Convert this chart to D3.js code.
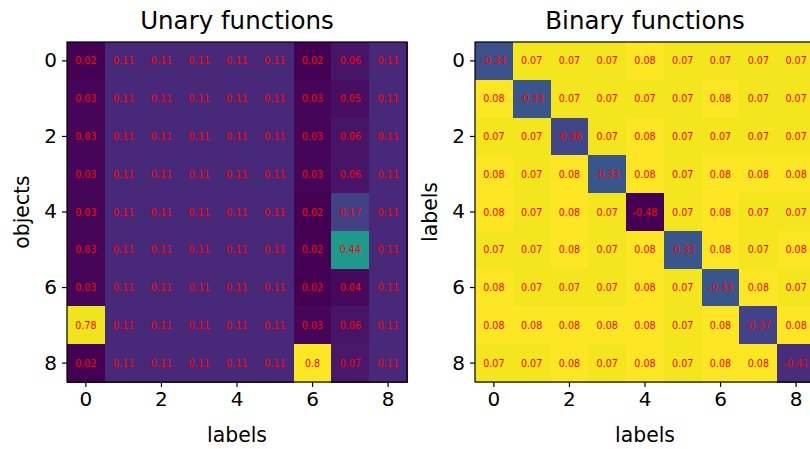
<!DOCTYPE html>
<html>
<head>
<meta charset="utf-8">
<script src="https://cdn.jsdelivr.net/npm/d3@7"></script>
<style>
  body { margin: 0; background: #fff; }
  svg { font-family: 'DejaVu Sans', sans-serif; }
</style>
</head>
<body>
<div id="chart"></div>
<script>
// row = object index, column = label index
const unaryValues = [
  [0.02, 0.11, 0.11, 0.11, 0.11, 0.11, 0.02, 0.06, 0.11],
  [0.03, 0.11, 0.11, 0.11, 0.11, 0.11, 0.03, 0.05, 0.11],
  [0.03, 0.11, 0.11, 0.11, 0.11, 0.11, 0.03, 0.06, 0.11],
  [0.03, 0.11, 0.11, 0.11, 0.11, 0.11, 0.03, 0.06, 0.11],
  [0.03, 0.11, 0.11, 0.11, 0.11, 0.11, 0.02, 0.17, 0.11],
  [0.03, 0.11, 0.11, 0.11, 0.11, 0.11, 0.02, 0.44, 0.11],
  [0.03, 0.11, 0.11, 0.11, 0.11, 0.11, 0.02, 0.04, 0.11],
  [0.78, 0.11, 0.11, 0.11, 0.11, 0.11, 0.03, 0.06, 0.11],
  [0.02, 0.11, 0.11, 0.11, 0.11, 0.11, 0.8, 0.07, 0.11]
];

const binaryValues = [
  [-0.34, 0.07, 0.07, 0.07, 0.08, 0.07, 0.07, 0.07, 0.07],
  [0.08, -0.33, 0.07, 0.07, 0.07, 0.07, 0.08, 0.07, 0.07],
  [0.07, 0.07, -0.36, 0.07, 0.08, 0.07, 0.07, 0.07, 0.07],
  [0.08, 0.07, 0.08, -0.33, 0.08, 0.07, 0.08, 0.08, 0.08],
  [0.08, 0.07, 0.08, 0.07, -0.48, 0.07, 0.08, 0.07, 0.07],
  [0.07, 0.07, 0.08, 0.07, 0.08, -0.33, 0.08, 0.07, 0.08],
  [0.08, 0.07, 0.07, 0.07, 0.08, 0.07, -0.33, 0.08, 0.07],
  [0.08, 0.08, 0.08, 0.08, 0.08, 0.07, 0.08, -0.37, 0.08],
  [0.07, 0.07, 0.08, 0.07, 0.08, 0.07, 0.08, 0.08, -0.41]
];

const indices = d3.range(9);
const tickValues = [0, 2, 4, 6, 8];

const panels = [
  {title: 'Unary functions', xLabel: 'labels', yLabel: 'objects', values: unaryValues, left: 67},
  {title: 'Binary functions', xLabel: 'labels', yLabel: 'labels', values: binaryValues, left: 475}
];

const width = 810;
const height = 449;
const marginTop = 42;
const size = 340;

const svg = d3.select('#chart')
  .append('svg')
  .attr('width', width)
  .attr('height', height);

panels.forEach(p => {
  const x = d3.scaleBand().domain(indices).range([0, size]);
  const y = d3.scaleBand().domain(indices).range([0, size]);
  const flat = p.values.flat();
  const color = d3.scaleSequential(d3.interpolateViridis)
    .domain(d3.extent(flat));

  const g = svg.append('g')
    .attr('transform', `translate(${p.left},${marginTop})`);

  const cells = [];
  p.values.forEach((row, r) => row.forEach((v, c) => cells.push({r, c, v})));

  g.selectAll('rect.cell')
    .data(cells)
    .enter().append('rect')
      .attr('class', 'cell')
      .attr('x', d => x(d.c))
      .attr('y', d => y(d.r))
      .attr('width', x.bandwidth() + 1)
      .attr('height', y.bandwidth() + 1)
      .attr('shape-rendering', 'crispEdges')
      .attr('fill', d => color(d.v));

  g.selectAll('text.val')
    .data(cells)
    .enter().append('text')
      .attr('class', 'val')
      .attr('x', d => x(d.c) + x.bandwidth() / 2)
      .attr('y', d => y(d.r) + y.bandwidth() / 2)
      .attr('text-anchor', 'middle')
      .attr('dominant-baseline', 'central')
      .attr('font-size', 9.6)
      .attr('fill', '#ff0000')
      .text(d => d.v);

  // frame
  g.append('rect')
    .attr('width', size)
    .attr('height', size)
    .attr('fill', 'none')
    .attr('stroke', '#000')
    .attr('stroke-width', 1.2);

  const xAxis = d3.axisBottom(x).tickValues(tickValues).tickSize(5).tickPadding(5);
  const yAxis = d3.axisLeft(y).tickValues(tickValues).tickSize(5).tickPadding(5);

  const gx = g.append('g')
    .attr('transform', `translate(0,${size})`)
    .call(xAxis);
  const gy = g.append('g').call(yAxis);

  [gx, gy].forEach(a => {
    a.select('.domain').remove();
    a.selectAll('line').attr('stroke', '#000').attr('stroke-width', 1.2);
    a.selectAll('text')
      .attr('font-size', 20)
      .attr('font-family', "'DejaVu Sans', sans-serif")
      .attr('fill', '#000');
  });

  g.append('text')
    .attr('x', size / 2)
    .attr('y', -13)
    .attr('text-anchor', 'middle')
    .attr('font-size', 24.5)
    .text(p.title);

  g.append('text')
    .attr('x', size / 2)
    .attr('y', size + 60)
    .attr('text-anchor', 'middle')
    .attr('font-size', 20.4)
    .text(p.xLabel);

  g.append('text')
    .attr('transform', `translate(-38,${size / 2}) rotate(-90)`)
    .attr('text-anchor', 'middle')
    .attr('font-size', 20.4)
    .text(p.yLabel);
});
</script>
</body>
</html>
